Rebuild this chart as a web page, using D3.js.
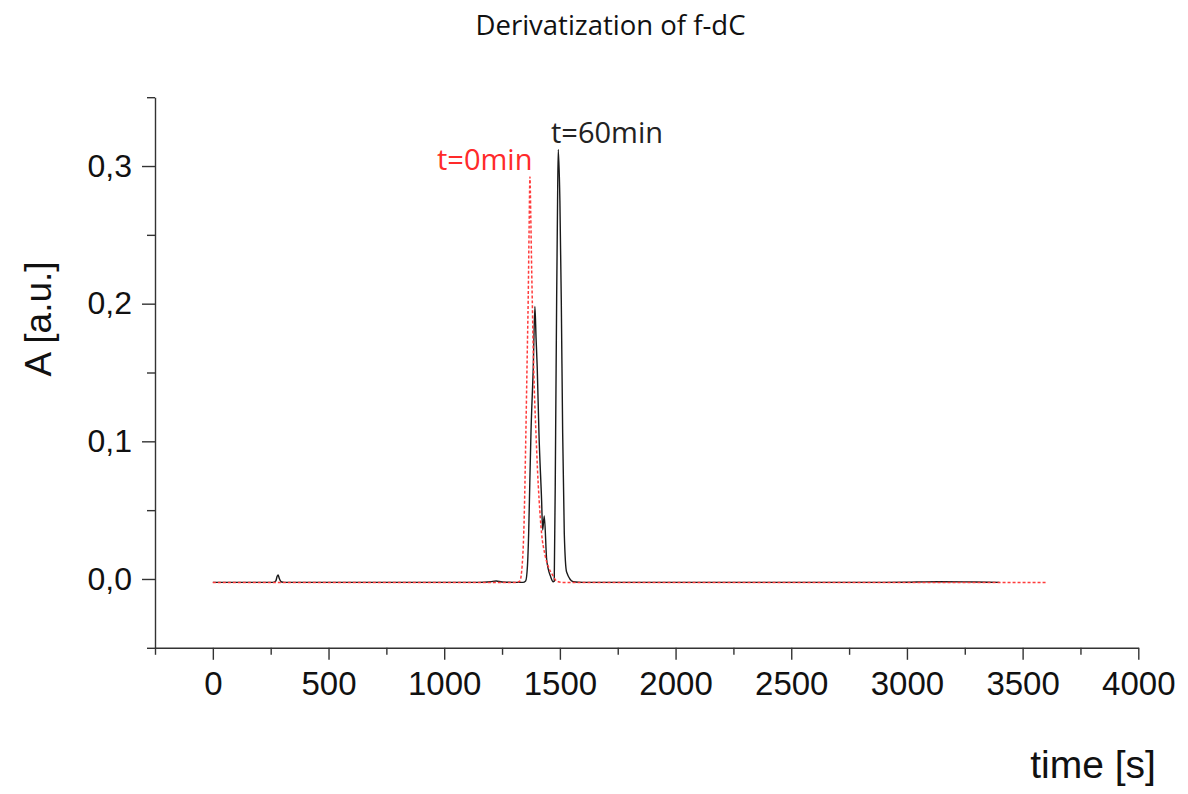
<!DOCTYPE html>
<html>
<head>
<meta charset="utf-8">
<script src="https://cdn.jsdelivr.net/npm/d3@7"></script>
<style>
  html, body { margin: 0; padding: 0; background: #fff; }
  svg { display: block; }
</style>
</head>
<body>
<svg id="chart" width="1188" height="794"></svg>
<script>
// ---- data ----
const titleText = "Derivatization of f-dC";
const xLabel = "time [s]";
const yLabel = "A [a.u.]";
const xMajorTicks = [0, 500, 1000, 1500, 2000, 2500, 3000, 3500, 4000];
const xMinorTicks = [-250, 250, 750, 1250, 1750, 2250, 2750, 3250, 3750];
const yMajorTicks = [0.0, 0.1, 0.2, 0.3];
const yMinorTicks = [-0.05, 0.05, 0.15, 0.25, 0.35];
const seriesNames = ["t=0min", "t=60min"];

// t = 0 min (red, dashed): [time s, absorbance]
const t0Time = [0, 1200, 1310, 1327, 1337, 1345, 1353, 1358, 1363, 1367, 1370.6, 1374, 1377, 1380.6, 1385, 1390, 1396.6, 1403, 1410, 1421, 1435, 1450, 1468, 1486, 1510, 3600];
const t0Abs  = [-0.0025, -0.0025, -0.0025, -0.0015, 0.01, 0.04, 0.106, 0.155, 0.203, 0.255, 0.292, 0.265, 0.235, 0.203, 0.165, 0.135, 0.106, 0.08, 0.058, 0.033, 0.018, 0.009, 0.003, -0.0015, -0.0025, -0.0025];

// t = 60 min (black, solid)
const t60Time = [0, 260, 272, 278, 282, 287, 295, 310, 1150, 1200, 1225, 1250, 1340, 1352, 1360, 1365, 1370, 1375, 1385, 1392, 1397, 1402, 1409.5, 1421, 1425.5, 1432.5, 1443, 1460, 1471, 1475.6, 1481.6, 1486, 1490, 1493, 1500, 1506, 1512, 1519, 1529, 1558, 1600, 2900, 3000, 3080, 3150, 3250, 3350, 3400];
const t60Abs  = [-0.0025, -0.0025, -0.0015, 0.002, 0.003, 0.0005, -0.002, -0.0025, -0.0025, -0.002, -0.0015, -0.0022, -0.0025, -0.0015, 0.01, 0.033, 0.07, 0.106, 0.154, 0.198, 0.175, 0.154, 0.106, 0.057, 0.0356, 0.0458, 0.0138, 0.0017, -0.002, -0.0017, 0.106, 0.203, 0.275, 0.312, 0.275, 0.203, 0.106, 0.033, 0.005, -0.002, -0.0025, -0.0025, -0.0024, -0.0021, -0.002, -0.0021, -0.0024, -0.0025];

// ---- drawing ----
const svg = d3.select("#chart");
const x = d3.scaleLinear().domain([-250, 4000]).range([155, 1138.3]);
const y = d3.scaleLinear().domain([-0.05, 0.35]).range([647.8, 97.2]);
const fmtY = v => d3.format(".1f")(v).replace(".", ",");

const axisColor = "#333";

// y axis
const gy = svg.append("g").attr("transform", `translate(${x(-250)},0)`);
gy.call(d3.axisLeft(y).tickValues(yMajorTicks).tickFormat(fmtY).tickSize(13).tickSizeOuter(0).tickPadding(10));
const gyMinor = svg.append("g").attr("transform", `translate(${x(-250)},0)`);
gyMinor.call(d3.axisLeft(y).tickValues(yMinorTicks).tickFormat("").tickSize(8).tickSizeOuter(0));
gyMinor.select(".domain").remove();

// x axis
const gx = svg.append("g").attr("transform", `translate(0,${y(-0.05)})`);
gx.call(d3.axisBottom(x).tickValues(xMajorTicks).tickFormat(d3.format("d")).tickSize(12).tickSizeOuter(0).tickPadding(12));
const gxMinor = svg.append("g").attr("transform", `translate(0,${y(-0.05)})`);
gxMinor.call(d3.axisBottom(x).tickValues(xMinorTicks).tickFormat("").tickSize(7).tickSizeOuter(0));
gxMinor.select(".domain").remove();

svg.selectAll(".domain").attr("stroke", axisColor).attr("stroke-width", 1.4);
svg.selectAll(".tick line").attr("stroke", axisColor).attr("stroke-width", 1.4);
gy.selectAll(".tick text").attr("font-family", "'Liberation Sans', Arial, sans-serif").attr("font-size", 32).attr("fill", "#111");
gx.selectAll(".tick text").attr("font-family", "'Liberation Sans', Arial, sans-serif").attr("font-size", 33).attr("fill", "#111");

// lines
const line = d3.line().x(d => x(d[0])).y(d => y(d[1])).curve(d3.curveMonotoneX);
const t60 = t60Time.map((t, i) => [t, t60Abs[i]]);
const t0 = t0Time.map((t, i) => [t, t0Abs[i]]);

svg.append("path").datum(t60).attr("d", line)
  .attr("fill", "none").attr("stroke", "#1a1a1a").attr("stroke-width", 1.4);
svg.append("path").datum(t0).attr("d", line)
  .attr("fill", "none").attr("stroke", "#ff3b3b").attr("stroke-width", 1.5)
  .attr("stroke-dasharray", "3,2");

// series labels
svg.append("text").attr("x", 437).attr("y", 170)
  .attr("font-family", "'Open Sans', sans-serif").attr("font-size", 29)
  .attr("fill", "#ff2a2a").text(seriesNames[0]);
svg.append("text").attr("x", 551).attr("y", 143)
  .attr("font-family", "'Open Sans', sans-serif").attr("font-size", 29)
  .attr("fill", "#222").text(seriesNames[1]);

// title
svg.append("text").attr("x", 610.5).attr("y", 35).attr("text-anchor", "middle")
  .attr("font-family", "'Open Sans', sans-serif").attr("font-size", 27.5)
  .attr("fill", "#111").text(titleText);

// axis titles
svg.append("text").attr("x", 1093).attr("y", 778).attr("text-anchor", "middle")
  .attr("font-family", "'Liberation Sans', Arial, sans-serif").attr("font-size", 39)
  .attr("fill", "#111").text(xLabel);
svg.append("text").attr("transform", "translate(51,319) rotate(-90)").attr("text-anchor", "middle")
  .attr("font-family", "'Liberation Sans', Arial, sans-serif").attr("font-size", 37)
  .attr("fill", "#111").text(yLabel);
</script>
</body>
</html>
